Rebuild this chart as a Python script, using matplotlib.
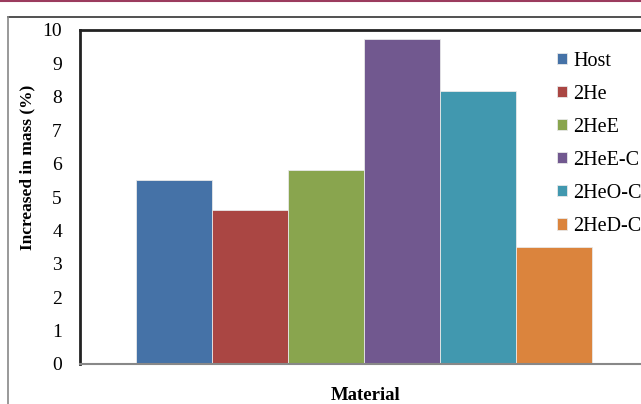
import numpy as np
import matplotlib.pyplot as plt
from matplotlib.lines import Line2D

# data
materials = ['Host', '2He', '2HeE', '2HeE-C', '2HeO-C', '2HeD-C']
mass_gain = [5.52, 4.60, 5.82, 9.73, 8.18, 3.49]
colors = ['#4572A7', '#AA4643', '#89A54E', '#71588F', '#4198AF', '#DB843D']
yticks = list(range(0, 11))

plt.rcParams['font.family'] = 'Liberation Serif'

W, H = 641, 404
fig = plt.figure(figsize=(W / 100, H / 100), dpi=100)

# outer frame lines of the figure image
fig.add_artist(Line2D([0, 1], [0.997, 0.997], color='#9b3b5e', lw=1.5))
fig.add_artist(Line2D([8/W, 1.0], [1-17/H, 1-17/H], color='#333333', lw=1.2))
fig.add_artist(Line2D([8/W, 8/W], [0, 1-17/H], color='#888888', lw=1.2))

ax = fig.add_axes([80/W, 1-364/H, 568/W, 334/H])

width = 0.134
n = len(materials)
x = (np.arange(n) - (n - 1) / 2) * width
bars = ax.bar(x, mass_gain, width=width, color=colors, edgecolor='#e8e8e8', linewidth=0.6)

ax.set_xlim(-0.5, 0.5)
ax.set_ylim(0, 10)
ax.set_yticks(yticks)
ax.set_xticks([])
ax.tick_params(axis='y', length=0, pad=13, labelsize=14)

for s in ['top', 'left']:
    ax.spines[s].set_linewidth(2)
    ax.spines[s].set_color('#222222')
ax.spines['bottom'].set_color('#888888')
ax.spines['bottom'].set_linewidth(1.5)
ax.spines['right'].set_visible(False)

fig.text(27/W, 1-167/H, 'Increased in mass (%)', fontsize=12.5, fontweight='bold',
         rotation=90, ha='center', va='center')
fig.text(366/W, 1-395/H, 'Material', fontsize=13.5, fontweight='bold', ha='center', va='center')

ax.legend(bars, materials, loc='upper left', bbox_to_anchor=(557/W, 1-51.5/H),
          bbox_transform=fig.transFigure, frameon=False, fontsize=14.5,
          handlelength=0.5, handleheight=0.5, handletextpad=0.3, labelspacing=0.70,
          borderpad=0, borderaxespad=0)

fig.savefig('out.png', dpi=100)
